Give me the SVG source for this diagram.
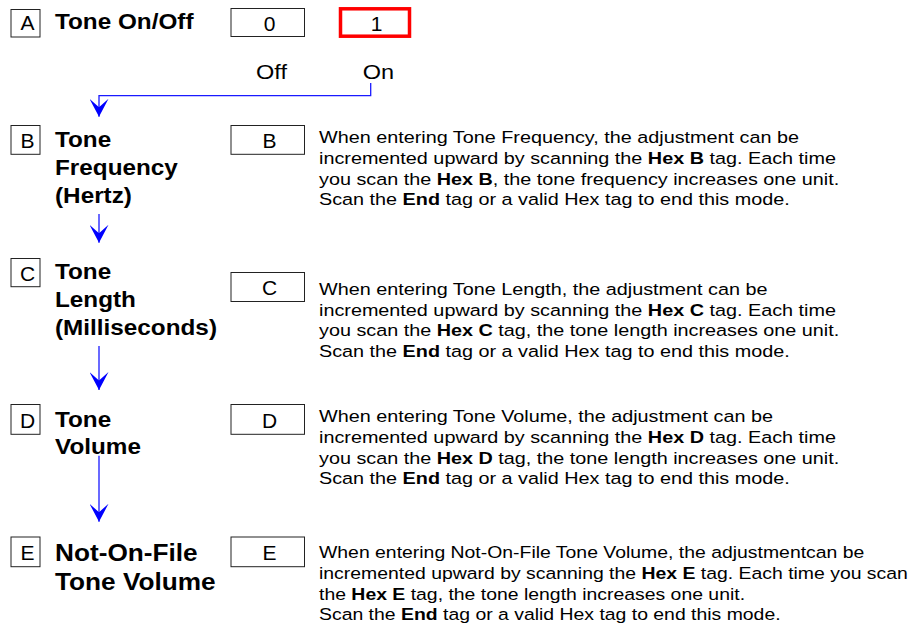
<svg xmlns="http://www.w3.org/2000/svg" width="915" height="627" viewBox="0 0 915 627">
<style>
text{font-family:"Liberation Sans",Arial,Helvetica,sans-serif;fill:#000}
.box{fill:#fff;stroke:#222;stroke-width:1}
.red{fill:#fff;stroke:#f00;stroke-width:3.5}
.lbl{font-size:21px;text-anchor:middle}
.ttl{font-size:21.5px;font-weight:bold}
.ttlE{font-size:23.2px;font-weight:bold}
.body{font-size:17px}
.b{font-weight:bold}
.sub{font-size:21px}
.conn{fill:none;stroke:#1a1aff;stroke-width:1.3}
</style>
<defs>
<marker id="ah" markerUnits="userSpaceOnUse" markerWidth="19" markerHeight="19" viewBox="0 0 18 18" refX="17" refY="9" orient="auto">
<path d="M17,9 L0,0 L8,9 L0,18 Z" fill="#0000ff"/>
</marker>
</defs>

<g id="connectors">
<path class="conn" d="M370.7,83 V95.7 H99 V116.7" marker-end="url(#ah)"/>
<path class="conn" d="M99,214 V242.7" marker-end="url(#ah)"/>
<path class="conn" d="M99,346 V390" marker-end="url(#ah)"/>
<path class="conn" d="M99,455.7 V521.7" marker-end="url(#ah)"/>
</g>

<g id="node-A">
<rect class="box" x="11" y="9.5" width="29" height="27.5"/>
<text class="lbl" x="27.5" y="30">A</text>
<text class="ttl" transform="matrix(1.13 0 0 1 55 29.3)">Tone On/Off</text>
<rect class="box" x="231" y="8.5" width="73.5" height="28"/>
<text class="lbl" x="269.5" y="30.5">0</text>
<rect class="red" x="340.5" y="8.8" width="69" height="27.4"/>
<text class="lbl" x="376.5" y="30.5">1</text>
<text class="sub" transform="matrix(1.12 0 0 1 256 78.7)">Off</text>
<text class="sub" transform="matrix(1.12 0 0 1 362.7 78.7)">On</text>
</g>

<g id="node-B">
<rect class="box" x="11" y="125.5" width="29" height="28.8"/>
<text class="lbl" x="27.5" y="148.3">B</text>
<text class="ttl" transform="matrix(1.13 0 0 1 55 147.3)"><tspan x="0" y="0">Tone</tspan><tspan x="0" y="27.8">Frequency</tspan><tspan x="0" y="55.6">(Hertz)</tspan></text>
<rect class="box" x="231" y="125.5" width="73.5" height="28.8"/>
<text class="lbl" x="269.5" y="148.3">B</text>
<text class="body" transform="matrix(1.165 0 0 1 319 143.3)"><tspan x="0" y="0">When entering Tone Frequency, the adjustment can be</tspan><tspan x="0" y="20.7">incremented upward by scanning the <tspan class="b">Hex B</tspan> tag. Each time</tspan><tspan x="0" y="41.4">you scan the <tspan class="b">Hex B</tspan>, the tone frequency increases one unit.</tspan><tspan x="0" y="62.1">Scan the <tspan class="b">End</tspan> tag or a valid Hex tag to end this mode.</tspan></text>
</g>

<g id="node-C">
<rect class="box" x="11" y="258.5" width="29" height="28.2"/>
<text class="lbl" x="27.5" y="280.5">C</text>
<text class="ttl" transform="matrix(1.13 0 0 1 55 279)"><tspan x="0" y="0">Tone</tspan><tspan x="0" y="28">Length</tspan><tspan x="0" y="56">(Milliseconds)</tspan></text>
<rect class="box" x="231" y="272.5" width="73.5" height="29"/>
<text class="lbl" x="269.5" y="295">C</text>
<text class="body" transform="matrix(1.165 0 0 1 319 295)"><tspan x="0" y="0">When entering Tone Length, the adjustment can be</tspan><tspan x="0" y="20.7">incremented upward by scanning the <tspan class="b">Hex C</tspan> tag. Each time</tspan><tspan x="0" y="41.4">you scan the <tspan class="b">Hex C</tspan> tag, the tone length increases one unit.</tspan><tspan x="0" y="62.1">Scan the <tspan class="b">End</tspan> tag or a valid Hex tag to end this mode.</tspan></text>
</g>

<g id="node-D">
<rect class="box" x="11" y="404.5" width="29" height="29.8"/>
<text class="lbl" x="27.5" y="427.7">D</text>
<text class="ttl" transform="matrix(1.13 0 0 1 55 426.7)"><tspan x="0" y="0">Tone</tspan><tspan x="0" y="27.7">Volume</tspan></text>
<rect class="box" x="231" y="404.5" width="73.5" height="29.8"/>
<text class="lbl" x="269.5" y="427.7">D</text>
<text class="body" transform="matrix(1.165 0 0 1 319 422.3)"><tspan x="0" y="0">When entering Tone Volume, the adjustment can be</tspan><tspan x="0" y="20.7">incremented upward by scanning the <tspan class="b">Hex D</tspan> tag. Each time</tspan><tspan x="0" y="41.4">you scan the <tspan class="b">Hex D</tspan> tag, the tone length increases one unit.</tspan><tspan x="0" y="62.1">Scan the <tspan class="b">End</tspan> tag or a valid Hex tag to end this mode.</tspan></text>
</g>

<g id="node-E">
<rect class="box" x="11" y="537" width="29" height="29.7"/>
<text class="lbl" x="27.5" y="560">E</text>
<text class="ttlE" transform="matrix(1.13 0 0 1 55 560.7)"><tspan x="0" y="0">Not-On-File</tspan><tspan x="0" y="29.3">Tone Volume</tspan></text>
<rect class="box" x="231" y="537" width="73.5" height="29.7"/>
<text class="lbl" x="269.5" y="560">E</text>
<text class="body" transform="matrix(1.142 0 0 1 319 558.3)"><tspan x="0" y="0">When entering Not-On-File Tone Volume, the adjustmentcan be</tspan><tspan x="0" y="20.7">incremented upward by scanning the <tspan class="b">Hex E</tspan> tag. Each time you scan</tspan><tspan x="0" y="41.4">the <tspan class="b">Hex E</tspan> tag, the tone length increases one unit.</tspan><tspan x="0" y="62.1">Scan the <tspan class="b">End</tspan> tag or a valid Hex tag to end this mode.</tspan></text>
</g>
</svg>
